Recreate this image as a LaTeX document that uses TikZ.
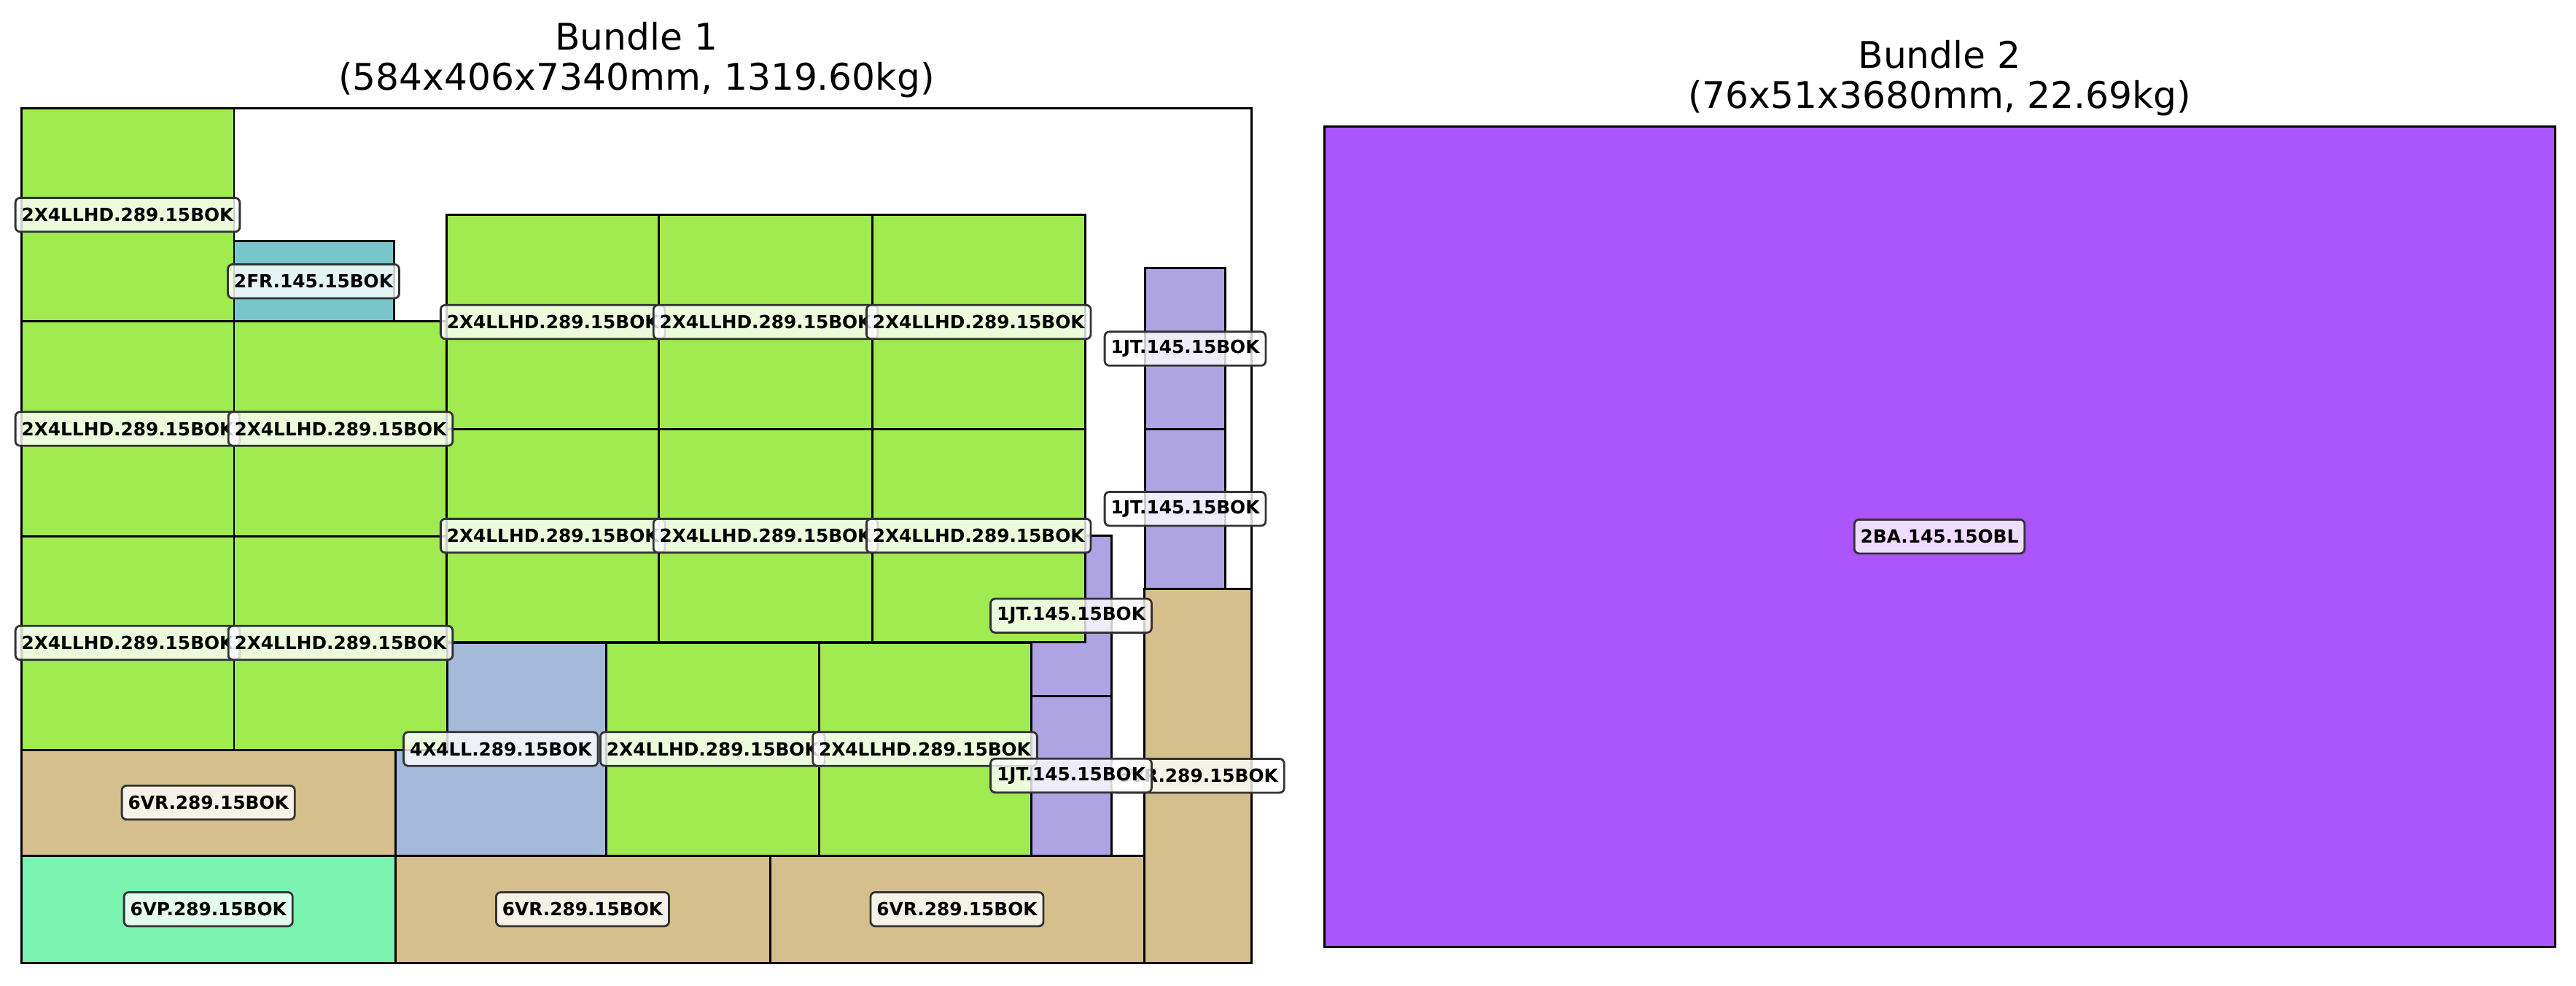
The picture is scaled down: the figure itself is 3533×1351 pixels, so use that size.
\documentclass[tikz,border=0pt]{standalone}
\usepackage{fontspec}
\setmainfont{DejaVu Sans}
\definecolor{grn}{RGB}{160,235,80}
\definecolor{teal}{RGB}{120,198,202}
\definecolor{blu}{RGB}{165,185,217}
\definecolor{pur}{RGB}{174,163,227}
\definecolor{tan}{RGB}{213,191,140}
\definecolor{mint}{RGB}{122,243,176}
\definecolor{vio}{RGB}{170,85,253}
\begin{document}
\begin{tikzpicture}[x=0.01cm,y=-0.01cm,
  piece/.style={draw=black, line width=0.85pt},
  lab/.style={font=\fontsize{7.05}{8}\selectfont\bfseries, rounded corners=1.8pt,
    draw=black!80, line width=0.8pt, fill=white, fill opacity=0.8, text opacity=1,
    inner xsep=2.4pt, inner ysep=0pt, minimum height=13.2pt},
  ttl/.style={font=\fontsize{14.3}{16}\selectfont, anchor=base, inner sep=0pt}]
\useasboundingbox (0,0) rectangle (3533,1351);

% titles
\node[ttl] (t1a) at (873,68) {Bundle 1};
\node[ttl] (t1b) at (873,123) {(584x406x7340mm, 1319.60kg)};
\node[ttl] (t2a) at (2660,93) {Bundle 2};
\node[ttl] (t2b) at (2660,148) {(76x51x3680mm, 22.69kg)};

% bundle 1 outline
\draw[piece, fill=white] (29.5,148.5) rectangle (1716.5,1320.5);

% pieces
\draw[piece, fill=grn] (29.5,148.5) rectangle (321,440.7);
\draw[piece, fill=teal] (321,330.8) rectangle (540,440.7);
\draw[piece, fill=grn] (29.5,440.7) rectangle (321,735);
\draw[piece, fill=grn] (321,440.7) rectangle (613,735);
\draw[piece, fill=blu] (542,881) rectangle (831.6,1173);
\draw[piece, fill=grn] (29.5,735) rectangle (321,1028);
\draw[piece, fill=grn] (321,735) rectangle (613,1028);
\draw[piece, fill=tan] (29.5,1028) rectangle (542,1173);
\draw[piece, fill=mint] (29.5,1173) rectangle (542,1320.5);
\draw[piece, fill=tan] (542,1173) rectangle (1056,1320.5);
\draw[piece, fill=tan] (1056,1173) rectangle (1569,1320.5);
\draw[piece, fill=tan] (1569,807) rectangle (1716.5,1320.5);
\draw[piece, fill=pur] (1414,734.4) rectangle (1524,954);
\draw[piece, fill=pur] (1414,954) rectangle (1524,1173);
\foreach \xa/\xb in {612.8/903.7, 903.7/1196.4, 1196.4/1488} {
  \draw[piece, fill=grn] (\xa,294.6) rectangle (\xb,588.4);
  \draw[piece, fill=grn] (\xa,588.4) rectangle (\xb,880.8);
}
\draw[piece, fill=grn] (831.6,881) rectangle (1123,1173);
\draw[piece, fill=grn] (1123,881) rectangle (1414,1173);
\draw[piece, fill=pur] (1570.3,367.9) rectangle (1680.6,588.4);
\draw[piece, fill=pur] (1570.3,588.4) rectangle (1680.6,807);

% bundle 2
\draw[piece, fill=vio] (1816,173.5) rectangle (3504,1298);

% labels
\node[lab] (l1) at (175,294.6) {2X4LLHD.289.15BOK};
\node[lab] (l2) at (430,385.7) {2FR.145.15BOK};
\node[lab] (l3) at (175,588) {2X4LLHD.289.15BOK};
\node[lab] (l4) at (467,588) {2X4LLHD.289.15BOK};
\node[lab] (l5) at (175,881.5) {2X4LLHD.289.15BOK};
\node[lab] (l6) at (467,881.5) {2X4LLHD.289.15BOK};
\node[lab] (l7) at (285.7,1100.5) {6VR.289.15BOK};
\node[lab] (l8) at (285.7,1246.7) {6VP.289.15BOK};
\node[lab] (l9) at (799,1246.7) {6VR.289.15BOK};
\node[lab] (l10) at (1312.5,1246.7) {6VR.289.15BOK};
\node[lab] (l11) at (758.2,441.5) {2X4LLHD.289.15BOK};
\node[lab] (l12) at (1050,441.5) {2X4LLHD.289.15BOK};
\node[lab] (l13) at (1342.2,441.5) {2X4LLHD.289.15BOK};
\node[lab] (l14) at (758.2,734.6) {2X4LLHD.289.15BOK};
\node[lab] (l15) at (1050,734.6) {2X4LLHD.289.15BOK};
\node[lab] (l16) at (1342.2,734.6) {2X4LLHD.289.15BOK};
\node[lab] (l17) at (686.8,1027) {4X4LL.289.15BOK};
\node[lab] (l18) at (977.3,1027) {2X4LLHD.289.15BOK};
\node[lab] (l19) at (1268.5,1027) {2X4LLHD.289.15BOK};
\node[lab] (l20) at (1642.7,1063.7) {6VR.289.15BOK};
\node[lab] (l21) at (1469,844.2) {1JT.145.15BOK};
\node[lab] (l22) at (1469,1063.5) {1JT.145.15BOK};
\node[lab] (l23) at (1625.5,478.1) {1JT.145.15BOK};
\node[lab] (l24) at (1625.5,697.7) {1JT.145.15BOK};
\node[lab] (l25) at (2660,735.7) {2BA.145.15OBL};
\end{tikzpicture}
\end{document}
